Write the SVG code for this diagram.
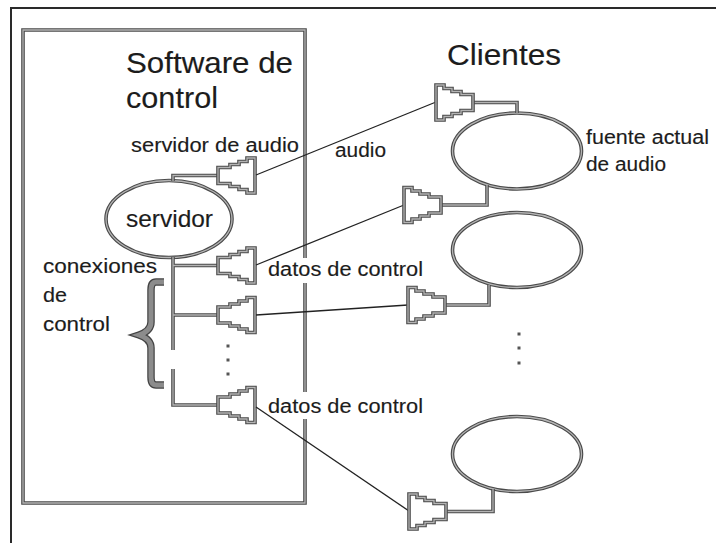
<svg xmlns="http://www.w3.org/2000/svg" xmlns:xlink="http://www.w3.org/1999/xlink" width="716" height="543" viewBox="0 0 716 543">
<style>
.o{fill:none;stroke:#4a4a4a;stroke-width:3.6;stroke-linejoin:miter}
.i{fill:none;stroke:#b4b4b4;stroke-width:1.3;stroke-linejoin:miter}
.wire{fill:none;stroke:#222;stroke-width:1.3}
.frame{fill:none;stroke:#2a2a2a;stroke-width:2}
text{font-family:"Liberation Sans",Arial,sans-serif;fill:#1c1c1c;stroke:#1c1c1c;stroke-width:0.15}
.big{font-size:29px}
.mid{font-size:20px}
.srv{font-size:24px}
.dot{fill:#555}
</style>
<defs>
<path id="plug" d="M0,-17.5 V17.5 H-8 V14 H-16 V11 H-25 V8 H-37 V-8 H-25 V-11 H-16 V-14 H-8 V-17.5 Z"/>
</defs>
<rect width="716" height="543" fill="#fff"/>
<path class="frame" d="M11,543 V8 H716"/>
<g id="software">
<path class="o" d="M305,258 V30 H23 V503 H305 V419 M305,283 V392"/>
<path class="i" d="M305,258 V30 H23 V503 H305 V419 M305,283 V392"/>
<text class="big" x="126" y="73" textLength="167" lengthAdjust="spacingAndGlyphs">Software de</text>
<text class="big" x="126" y="108" textLength="92" lengthAdjust="spacingAndGlyphs">control</text>
</g>
<text class="big" x="447" y="65" textLength="114" lengthAdjust="spacingAndGlyphs">Clientes</text>
<g id="servidor">
<ellipse class="o" cx="169" cy="219" rx="63" ry="38.5"/>
<ellipse class="i" cx="169" cy="219" rx="63" ry="38.5"/>
<text class="srv" x="126" y="227" textLength="87" lengthAdjust="spacingAndGlyphs">servidor</text>
</g>
<g id="server-links">
<path class="o" d="M173,181 V175.5 H219 M173,257 V350 M173,369 V405 H219 M173,265.5 H219 M173,315 H219"/>
<path class="i" d="M173,181 V175.5 H219 M173,257 V350 M173,369 V405 H219 M173,265.5 H219 M173,315 H219"/>
</g>
<g id="plug-audio-srv"><use href="#plug" class="o" transform="translate(255,175.5)"/><use href="#plug" class="i" transform="translate(255,175.5)"/></g>
<g id="plug-ctrl-1"><use href="#plug" class="o" transform="translate(255,265.5)"/><use href="#plug" class="i" transform="translate(255,265.5)"/></g>
<g id="plug-ctrl-2"><use href="#plug" class="o" transform="translate(255,315)"/><use href="#plug" class="i" transform="translate(255,315)"/></g>
<g id="plug-ctrl-n"><use href="#plug" class="o" transform="translate(255,405)"/><use href="#plug" class="i" transform="translate(255,405)"/></g>
<g id="brace">
<path d="M164,282 H156 Q151,282 151,290 V322 Q151,331 139,335 Q151,339 151,348 V377 Q151,385 156,385 H164" fill="none" stroke="#444" stroke-width="7.5"/>
<path d="M164,282 H156 Q151,282 151,290 V322 Q151,331 139,335 Q151,339 151,348 V377 Q151,385 156,385 H164" fill="none" stroke="#8c8c8c" stroke-width="5"/>
</g>
<g id="labels-left">
<text class="mid" x="131" y="152" textLength="168" lengthAdjust="spacingAndGlyphs">servidor de audio</text>
<text class="mid" x="43" y="273" textLength="114" lengthAdjust="spacingAndGlyphs">conexiones</text>
<text class="mid" x="43" y="302" textLength="24" lengthAdjust="spacingAndGlyphs">de</text>
<text class="mid" x="43" y="331" textLength="67" lengthAdjust="spacingAndGlyphs">control</text>
</g>
<g id="dots-left">
<rect class="dot" x="226.5" y="344.5" width="3" height="3"/>
<rect class="dot" x="226.5" y="358.5" width="3" height="3"/>
<rect class="dot" x="226.5" y="372.5" width="3" height="3"/>
</g>
<g id="connectors">
<path class="wire" d="M256,175 L436,102"/>
<path class="wire" d="M256,265 L404,205"/>
<path class="wire" d="M256,315 L408,305"/>
<path class="wire" d="M256,407 L409,511"/>
</g>
<g id="connector-labels">
<text class="mid" x="335" y="157" textLength="51" lengthAdjust="spacingAndGlyphs">audio</text>
<text class="mid" x="268" y="276" textLength="155" lengthAdjust="spacingAndGlyphs">datos de control</text>
<text class="mid" x="268" y="413" textLength="155" lengthAdjust="spacingAndGlyphs">datos de control</text>
</g>
<g id="client-a">
<ellipse class="o" cx="517" cy="151" rx="64.5" ry="38"/>
<ellipse class="i" cx="517" cy="151" rx="64.5" ry="38"/>
<path class="o" d="M473,102.5 H517 V113"/>
<path class="i" d="M473,102.5 H517 V113"/>
<use href="#plug" class="o" transform="translate(436,102.5) scale(-1,1)"/>
<use href="#plug" class="i" transform="translate(436,102.5) scale(-1,1)"/>
<path class="o" d="M441,205 H487 V185"/>
<path class="i" d="M441,205 H487 V185"/>
<use href="#plug" class="o" transform="translate(404,205) scale(-1,1)"/>
<use href="#plug" class="i" transform="translate(404,205) scale(-1,1)"/>
<text class="mid" x="586" y="144" textLength="123" lengthAdjust="spacingAndGlyphs">fuente actual</text>
<text class="mid" x="586" y="171" textLength="80" lengthAdjust="spacingAndGlyphs">de audio</text>
</g>
<g id="client-b">
<ellipse class="o" cx="517" cy="250" rx="64.5" ry="37.5"/>
<ellipse class="i" cx="517" cy="250" rx="64.5" ry="37.5"/>
<path class="o" d="M445,305 H489 V285"/>
<path class="i" d="M445,305 H489 V285"/>
<use href="#plug" class="o" transform="translate(408,305) scale(-1,1)"/>
<use href="#plug" class="i" transform="translate(408,305) scale(-1,1)"/>
</g>
<g id="dots-right">
<rect class="dot" x="517.5" y="332.5" width="3" height="3"/>
<rect class="dot" x="517.5" y="346.5" width="3" height="3"/>
<rect class="dot" x="517.5" y="361.5" width="3" height="3"/>
</g>
<g id="client-n">
<ellipse class="o" cx="517" cy="454" rx="64.5" ry="37.5"/>
<ellipse class="i" cx="517" cy="454" rx="64.5" ry="37.5"/>
<path class="o" d="M446,511.5 H493 V489"/>
<path class="i" d="M446,511.5 H493 V489"/>
<use href="#plug" class="o" transform="translate(409,511.5) scale(-1,1)"/>
<use href="#plug" class="i" transform="translate(409,511.5) scale(-1,1)"/>
</g>
</svg>
